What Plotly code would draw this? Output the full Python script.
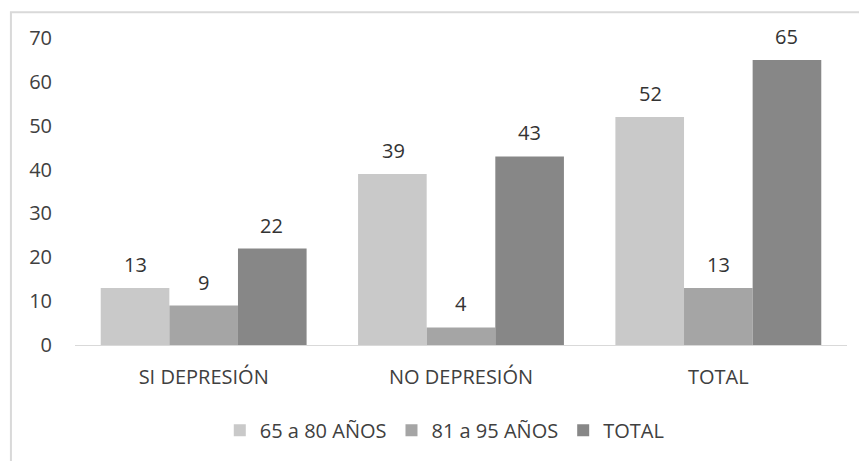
import plotly.graph_objects as go

categories = ["SI DEPRESIÓN", "NO DEPRESIÓN", "TOTAL"]
series_names = ["65 a 80 AÑOS", "81 a 95 AÑOS", "TOTAL"]
values_65_80 = [13, 39, 52]
values_81_95 = [9, 4, 13]
values_total = [22, 43, 65]
y_ticks = [0, 10, 20, 30, 40, 50, 60, 70]

series_values = [values_65_80, values_81_95, values_total]
colors = ["#c9c9c9", "#a5a5a5", "#878787"]
font_family = "Open Sans, Liberation Sans, sans-serif"
text_color = "#404040"
fs = 20

fig = go.Figure()
for name, vals, col in zip(series_names, series_values, colors):
    fig.add_trace(go.Bar(
        x=categories, y=vals, name=name,
        marker=dict(color=col, line=dict(width=0)),
    ))

# value labels above each bar
bar_px = 68
offsets = [-bar_px, 0, bar_px]
for vals, off in zip(series_values, offsets):
    for cat, v in zip(categories, vals):
        fig.add_annotation(
            x=cat, y=v, xref="x", yref="y", text=str(v), showarrow=False,
            xshift=off, yshift=8, yanchor="bottom",
            font=dict(family=font_family, size=fs, color="#333333"),
        )

# chart border
fig.add_shape(type="rect", xref="paper", yref="paper",
              x0=-0.083, x1=1.03, y0=-0.4, y1=1.084,
              line=dict(color="#d9d9d9", width=2), fillcolor="rgba(0,0,0,0)",
              layer="below")

fig.update_layout(
    width=859, height=461,
    margin=dict(l=75, r=12, t=38, b=115),
    paper_bgcolor="white", plot_bgcolor="white",
    barmode="group", bargap=0.2, bargroupgap=0,
    font=dict(family=font_family, size=fs, color=text_color),
    showlegend=True,
    legend=dict(orientation="h", x=0.479, xanchor="center", y=-0.21, yanchor="top",
                font=dict(size=fs, color=text_color), itemwidth=30,
                traceorder="normal"),
    xaxis=dict(showline=True, linecolor="#d9d9d9", linewidth=1, ticks="",
               ticklabelstandoff=14,
               tickfont=dict(size=fs, color=text_color), showgrid=False),
    yaxis=dict(range=[0, 70], tickvals=y_ticks, showgrid=False, zeroline=False,
               showline=False, ticks="", ticklabelstandoff=22,
               tickfont=dict(size=fs, color=text_color)),
)

fig.write_html("out.html")
